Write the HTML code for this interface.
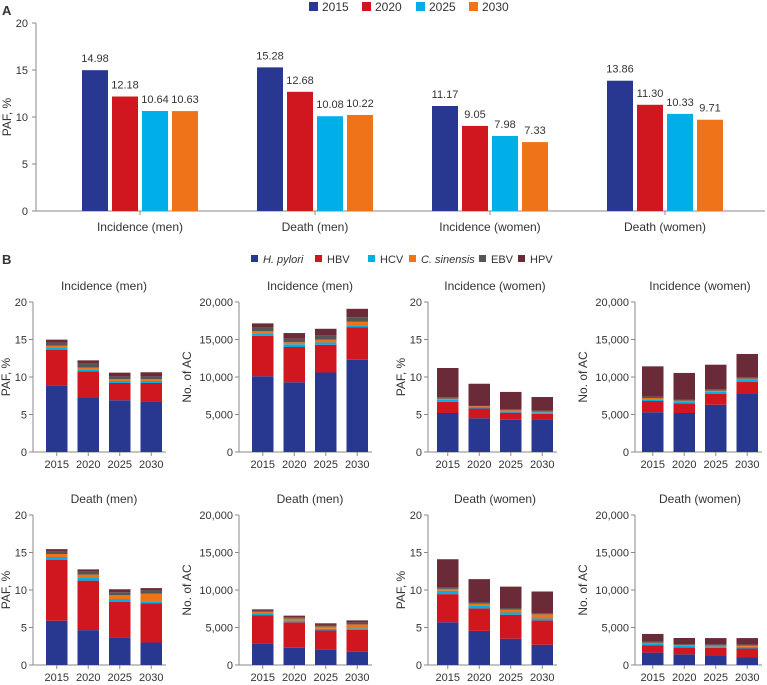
<!DOCTYPE html>
<html><head><meta charset="utf-8">
<style>
body{margin:0;background:#fff;}
svg{display:block;font-family:"Liberation Sans",Arial,sans-serif;}
text{fill:#333;}
</style></head>
<body>
<svg id="chart" width="767" height="685" viewBox="0 0 767 685" xmlns="http://www.w3.org/2000/svg"></svg>
<script>
// ---- Panel A data ----
const aCategories = ["Incidence (men)","Death (men)","Incidence (women)","Death (women)"];
const aYears = ["2015","2020","2025","2030"];
const a2015 = [14.98,15.28,11.17,13.86];
const a2020 = [12.18,12.68,9.05,11.30];
const a2025 = [10.64,10.08,7.98,10.33];
const a2030 = [10.63,10.22,7.33,9.71];
const aTicks = [0,5,10,15,20];

// ---- Panel B data ----
const bYears = ["2015","2020","2025","2030"];
const bSeries = ["H. pylori","HBV","HCV","C. sinensis","EBV","HPV"];
const pafTicks = [0,5,10,15,20];
const acTicks = [0,5000,10000,15000,20000];
// each panel: rows = years, cols = series
const incMenPaf = [[8.9,4.7,0.35,0.25,0.35,0.43],[7.2,3.55,0.27,0.25,0.5,0.45],[6.9,2.3,0.27,0.26,0.35,0.5],[6.75,2.45,0.27,0.26,0.35,0.55]];
const incMenAc = [[10100,5400,320,310,450,570],[9300,4700,360,270,490,740],[10600,3700,310,360,580,880],[12300,4350,260,450,620,1110]];
const incWomenPaf = [[5.2,1.5,0.25,0.15,0.2,3.9],[4.5,1.3,0.2,0.1,0.1,2.9],[4.3,0.95,0.18,0.13,0.15,2.3],[4.35,0.75,0.2,0.1,0.1,1.83]];
const incWomenAc = [[5300,1500,220,180,180,4040],[5200,1300,220,130,140,3550],[6300,1480,260,140,180,3280],[7850,1480,270,180,180,3110]];
const deathMenPaf = [[5.9,8.1,0.4,0.4,0.35,0.3],[4.65,6.6,0.35,0.45,0.4,0.3],[3.7,4.7,0.4,0.5,0.4,0.4],[3.0,5.2,0.3,1.0,0.45,0.3]];
const deathMenAc = [[2850,3800,220,220,180,150],[2300,3400,220,270,180,210],[2050,2550,220,300,220,220],[1750,2950,180,530,270,270]];
const deathWomenPaf = [[5.7,3.75,0.45,0.25,0.15,3.8],[4.55,3.0,0.4,0.25,0.2,3.05],[3.5,3.2,0.3,0.4,0.2,2.85],[2.7,3.25,0.25,0.55,0.15,2.9]];
const deathWomenAc = [[1650,1000,220,90,130,1050],[1420,900,220,90,130,840],[1200,1100,180,130,140,840],[1000,1200,220,180,90,900]];

const COLORS = ["#283891","#d0171f","#00aee8","#ef7318","#555555","#6b2a38"];
const svg = document.getElementById('chart');
const NS = "http://www.w3.org/2000/svg";
function mk(tag, attrs, parent){
  const e = document.createElementNS(NS, tag);
  for (const k in attrs) e.setAttribute(k, attrs[k]);
  (parent||svg).appendChild(e);
  return e;
}
function txt(s, x, y, size, anchor, parent, italic){
  const t = mk('text', {x:x, y:y, 'font-size':size, 'text-anchor':anchor||'middle'}, parent);
  if (italic) t.setAttribute('font-style','italic');
  t.textContent = s;
  return t;
}
const fmt = v => v.toLocaleString('en-US');

// ---- Panel A ----
{
  const g = mk('g', {});
  
  
  const lbl = txt('A', 2, 15, 13, 'start', g); lbl.setAttribute('font-weight','bold');
   
  const y0 = 211, y20 = 23;
  const ys = v => y0 - (v/20)*(y0-y20);
  const xc = i => 140 + 175*i;
  mk('line', {x1:36,y1:y20,x2:36,y2:y0,stroke:'#888','stroke-width':1}, g);
  mk('line', {x1:36,y1:y0,x2:765,y2:y0,stroke:'#888','stroke-width':1}, g);
  aTicks.forEach(t => {
    mk('line', {x1:32,y1:ys(t),x2:36,y2:ys(t),stroke:'#888'}, g);
    const tt = txt(String(t), 28, ys(t)+4, 11, 'end', g);
    
    
  });
  const yt = txt('PAF, %', 0, 0, 12, 'middle', g);
  yt.setAttribute('transform','translate(11,117) rotate(-90)');
  
  
  const series = [a2015,a2020,a2025,a2030];
  aCategories.forEach((c, i) => {
    mk('line', {x1:xc(i),y1:y0,x2:xc(i),y2:y0+4,stroke:'#888'}, g);
    const ct = txt(c, xc(i), 231, 12, 'middle', g);
    
    
    series.forEach((s, j) => {
      const x = xc(i) - 58 + j*30;
      const r = mk('rect', {x:x, y:ys(s[i]), width:26, height:y0-ys(s[i]), fill:COLORS[j]}, g);
      
      
      const vt = txt(s[i].toFixed(2), x+13, ys(s[i])-8, 11, 'middle', g);
      
      
    });
  });
  const lx = [309,362,416,469];
  aYears.forEach((yr, j) => {
    const lg = mk('g', {}, g);
    
    
    mk('rect', {x:lx[j], y:2, width:9, height:9, fill:COLORS[j]}, lg);
    txt(yr, lx[j]+13, 11, 12, 'start', lg);
  });
}

// ---- Panel B ----
{
  const g = mk('g', {});
  
  
  const lbl = txt('B', 2, 264, 13, 'start', g); lbl.setAttribute('font-weight','bold');
   
  const lx = [251,315,368,409,479,518];
  bSeries.forEach((s, j) => {
    const lg = mk('g', {}, g);
    
    
    mk('rect', {x:lx[j], y:255, width:7, height:7, fill:COLORS[j]}, lg);
    txt(s, lx[j]+12, 263, 11, 'start', lg, j===0||j===3);
  });

  const panels = [
    {title:'Incidence (men)', data:incMenPaf, paf:true, ax:33, bx:46, row:0, name:'incidence-men-paf'},
    {title:'Incidence (men)', data:incMenAc, paf:false, ax:239, bx:252, row:0, name:'incidence-men-ac'},
    {title:'Incidence (women)', data:incWomenPaf, paf:true, ax:428, bx:437, row:0, name:'incidence-women-paf'},
    {title:'Incidence (women)', data:incWomenAc, paf:false, ax:635, bx:642, row:0, name:'incidence-women-ac'},
    {title:'Death (men)', data:deathMenPaf, paf:true, ax:33, bx:46, row:1, name:'death-men-paf'},
    {title:'Death (men)', data:deathMenAc, paf:false, ax:239, bx:252, row:1, name:'death-men-ac'},
    {title:'Death (women)', data:deathWomenPaf, paf:true, ax:428, bx:437, row:1, name:'death-women-paf'},
    {title:'Death (women)', data:deathWomenAc, paf:false, ax:635, bx:642, row:1, name:'death-women-ac'}
  ];
  panels.forEach(p => {
    const pg = mk('g', {}, g);
    
    
    const y0 = p.row ? 665 : 452, yTop = p.row ? 515 : 302;
    const max = p.paf ? 20 : 20000;
    const ys = v => y0 - (v/max)*(y0-yTop);
    const ticks = p.paf ? pafTicks : acTicks;
    const xEnd = p.bx + 3*31.5 + 21.5 + 4;
    mk('line', {x1:p.ax,y1:yTop,x2:p.ax,y2:y0,stroke:'#888'}, pg);
    mk('line', {x1:p.ax,y1:y0,x2:xEnd,y2:y0,stroke:'#888'}, pg);
    ticks.forEach(t => {
      mk('line', {x1:p.ax-4,y1:ys(t),x2:p.ax,y2:ys(t),stroke:'#888'}, pg);
      const tt = txt(fmt(t), p.ax-6, ys(t)+4, 11, 'end', pg);
      
      
    });
    const tcx = p.bx + (3*31.5+21.5)/2;
    const tt = txt(p.title, tcx, yTop-12, 12, 'middle', pg);
    
    
    const ytx = p.paf ? p.ax-23 : p.ax-48;
    const yt = txt(p.paf ? 'PAF, %' : 'No. of AC', 0, 0, 12, 'middle', pg);
    yt.setAttribute('transform','translate('+ytx+','+((y0+yTop)/2)+') rotate(-90)');
    
    
    bYears.forEach((yr, i) => {
      const x = p.bx + i*31.5;
      mk('line', {x1:x+10.75,y1:y0,x2:x+10.75,y2:y0+4,stroke:'#888'}, pg);
      const xl = txt(yr, x+10.75, y0+16, 11, 'middle', pg);
      
      
      let cum = 0;
      p.data[i].forEach((v, j) => {
        const top = ys(cum+v), bot = ys(cum);
        const r = mk('rect', {x:x, y:top, width:21.5, height:Math.max(0,bot-top), fill:COLORS[j]}, pg);
        
        
        cum += v;
      });
    });
  });
}
</script>
</body></html>
